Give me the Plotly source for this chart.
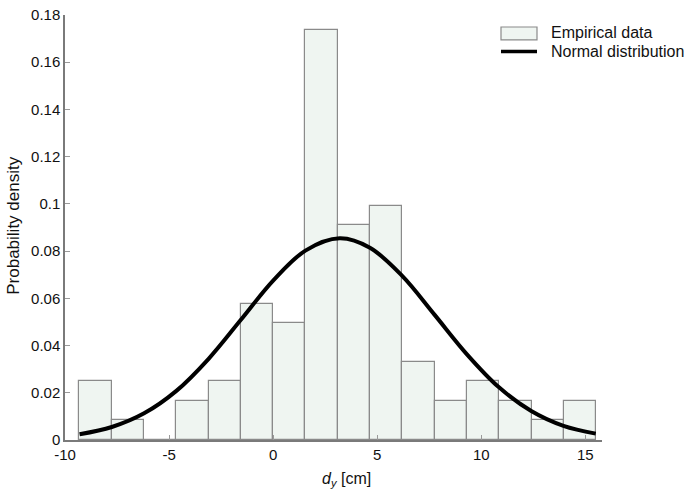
import plotly.graph_objects as go

# Histogram bin edges (cm) and probability densities
bin_edges = [-9.31, -7.76, -6.21, -4.66, -3.10, -1.55, 0.0, 1.55, 3.10,
             4.66, 6.21, 7.76, 9.31, 10.86, 12.42, 13.97, 15.52]
densities = [0.0249, 0.0083, 0.0, 0.0166, 0.0249, 0.0578, 0.0496, 0.1735,
             0.0909, 0.0991, 0.0330, 0.0166, 0.0249, 0.0166, 0.0083, 0.0166]

# Normal distribution curve
curve_x = [-9.3, -7.75, -6.2, -4.65, -3.1, -1.55, 0.0, 1.55, 3.2,
           4.65, 6.2, 7.75, 9.3, 10.85, 12.4, 13.95, 15.5]
curve_y = [0.0024, 0.0055, 0.0113, 0.0208, 0.0344, 0.0509, 0.0675, 0.0802, 0.0854,
           0.0814, 0.0695, 0.0531, 0.0364, 0.0223, 0.0123, 0.0060, 0.0027]

x_ticks = [-10, -5, 0, 5, 10, 15]
x_ticktext = ["-10", "-5", "0", "5", "10", "15"]
y_ticks = [0, 0.02, 0.04, 0.06, 0.08, 0.1, 0.12, 0.14, 0.16, 0.18]
y_ticktext = ["0", "0.02", "0.04", "0.06", "0.08", "0.1", "0.12", "0.14", "0.16", "0.18"]

centers = [(a + b) / 2 for a, b in zip(bin_edges[:-1], bin_edges[1:])]
widths = [b - a for a, b in zip(bin_edges[:-1], bin_edges[1:])]

FONT = "Liberation Sans, Arial, sans-serif"
fill = "#eff5f1"
edge = "#8a8a8a"
TXT = "#111111"

fig = go.Figure()
fig.add_trace(go.Bar(x=centers, y=densities, width=widths,
                     marker=dict(color=fill, line=dict(color=edge, width=1.2)),
                     name="Empirical data", showlegend=False))
fig.add_trace(go.Scatter(x=curve_x, y=curve_y, mode="lines",
                         line=dict(color="black", width=4, shape="spline", smoothing=1.0),
                         name="Normal distribution", showlegend=False))

# Manual legend (paper coordinates; plot area spans x 65..602 px, y 15..440.5 px)
pw, ph = 537.0, 425.5
def px(x): return (x - 65) / pw
def py(y): return 1 - (y - 15) / ph

fig.add_shape(type="rect", xref="paper", yref="paper",
              x0=px(501), x1=px(537), y0=py(40), y1=py(27),
              fillcolor=fill, line=dict(color=edge, width=1.2))
fig.add_shape(type="line", xref="paper", yref="paper",
              x0=px(501), x1=px(537), y0=py(51.5), y1=py(51.5),
              line=dict(color="black", width=3.5))
fig.add_annotation(xref="paper", yref="paper", x=px(549), y=py(32.5),
                   text="Empirical data", showarrow=False, xanchor="left", yanchor="middle",
                   font=dict(family=FONT, size=16, color=TXT))
fig.add_annotation(xref="paper", yref="paper", x=px(549), y=py(51.5),
                   text="Normal distribution", showarrow=False, xanchor="left", yanchor="middle",
                   font=dict(family=FONT, size=16, color=TXT))

# Axis titles placed as annotations
fig.add_annotation(xref="paper", yref="paper", x=px(14), y=py(226),
                   text="Probability density", textangle=-90, showarrow=False,
                   xanchor="center", yanchor="middle",
                   font=dict(family=FONT, size=17, color=TXT))
fig.add_annotation(xref="paper", yref="paper", x=px(346), y=py(480),
                   text="<i>d<sub>y</sub></i> [cm]", showarrow=False,
                   xanchor="center", yanchor="middle",
                   font=dict(family=FONT, size=16, color=TXT))

fig.update_layout(
    width=695, height=492,
    margin=dict(l=65, r=93, t=15, b=51.5),
    plot_bgcolor="white", paper_bgcolor="white",
    font=dict(family=FONT, size=15, color=TXT),
    bargap=0,
    xaxis=dict(range=[-10, 15.8], tickvals=x_ticks, ticktext=x_ticktext,
               showgrid=False, zeroline=False, automargin=False,
               showline=True, linecolor="#7a7a7a", linewidth=1.5,
               ticks="inside", ticklen=5, tickcolor="#9a9a9a",
               tickfont=dict(size=15, family=FONT, color=TXT)),
    yaxis=dict(range=[0, 0.18], tickvals=y_ticks, ticktext=y_ticktext, showgrid=False,
               zeroline=False, automargin=False,
               showline=True, linecolor="#7a7a7a", linewidth=1.5,
               ticks="inside", ticklen=5, tickcolor="#9a9a9a",
               tickfont=dict(size=15, family=FONT, color=TXT)),
)

# remove the default 8px page margin so the figure sits at the window origin
fig.write_html("out.html",
               config={"displayModeBar": False},
               post_script="document.body.style.margin='0';document.body.style.overflow='hidden';")
